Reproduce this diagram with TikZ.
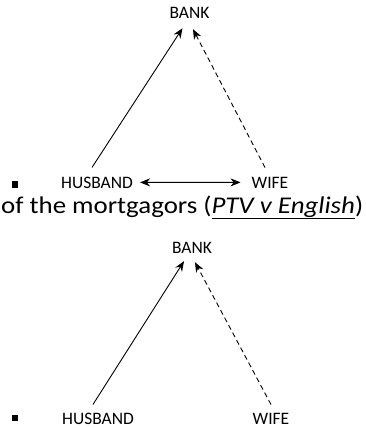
\documentclass[tikz,border=0pt]{standalone}
\usepackage{fontspec}
\setmainfont{Carlito}
\usetikzlibrary{arrows.meta}

\begin{document}
\begin{tikzpicture}[x=1pt,y=-1pt,
    party/.style={inner sep=0pt, anchor=base, font=\fontsize{17.5}{19}\selectfont},
    bulletbox/.style={fill=black, minimum size=6.5pt, inner sep=0pt},
    link/.style={line width=0.9pt, -{Stealth[length=10pt,width=8pt]}},
    guarantee/.style={link, dash pattern=on 5pt off 3.5pt}]

    \useasboundingbox (0,0) rectangle (366,428);

    % Top diagram
    \node[party] (bankA) at (189.5,19) {BANK};
    \node[party] (husbA) at (97,188) {HUSBAND};
    \node[party] (wifeA) at (270,188) {WIFE};
    \node[bulletbox] (bulletA) at (15,184.5) {};

    \draw[link] ([shift={(-5,-9)}]husbA.north) -- ([shift={(-7,9)}]bankA.south);
    \draw[guarantee] ([shift={(-5,-9)}]wifeA.north) -- ([shift={(3.5,10)}]bankA.south);
    \draw[link, {Stealth[length=10pt,width=8pt]}-{Stealth[length=10pt,width=8pt]},
      shorten <=7pt, shorten >=11pt] (husbA.east) -- (wifeA.west);

    % Caption (text is a little wide in the original)
    \node[inner sep=0pt, anchor=base west, font=\fontsize{24}{26}\selectfont] (caption) at (1,213)
      {\scalebox{1.12}[1]{of the mortgagors (\textit{\underline{PTV v English}})}};

    % Bottom diagram
    \node[party] (bankB) at (192,253) {BANK};
    \node[party] (husbB) at (98,424) {HUSBAND};
    \node[party] (wifeB) at (271,424) {WIFE};
    \node[bulletbox] (bulletB) at (15,418) {};

    \draw[link] ([shift={(-5,-8)}]husbB.north) -- ([shift={(-8,8)}]bankB.south);
    \draw[guarantee] ([shift={(0,-8)}]wifeB.north) -- ([shift={(3,9)}]bankB.south);

\end{tikzpicture}
\end{document}
